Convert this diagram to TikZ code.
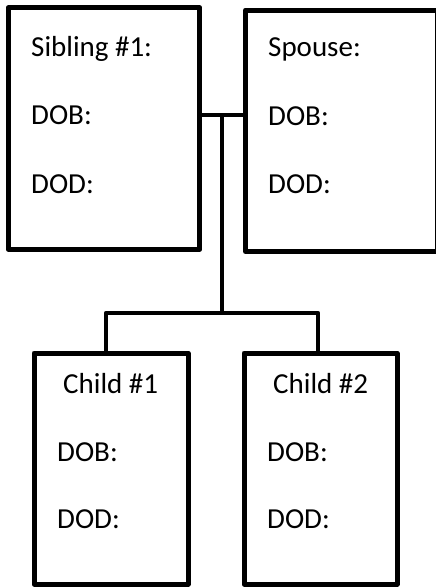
\documentclass[tikz,border=0pt]{standalone}
\usepackage{fontspec}
\setmainfont{Carlito}
\begin{document}
\begin{tikzpicture}[x=1pt,y=-1pt,
  personbox/.style={draw=black,line width=5pt,line join=round,inner sep=0pt,fill=none},
  lbl/.style={anchor=base west,inner sep=0pt,font=\fontsize{29}{33}\selectfont},
  conn/.style={draw=black,line width=4.5pt,line join=round}]
\useasboundingbox (0,0) rectangle (436,587);
\fill[white] (0,0) rectangle (436,587);
% boxes
\node[personbox,minimum width=191.5pt,minimum height=241.5pt] (sib) at (104,128.5) {};
\node[personbox,minimum width=191.5pt,minimum height=241.5pt] (sp) at (341.25,130.75) {};
\node[personbox,minimum width=154pt,minimum height=231pt] (c1) at (111,468.5) {};
\node[personbox,minimum width=153pt,minimum height=231pt] (c2) at (320.5,468.5) {};
% texts
\node[lbl] (t1) at (31,56) {Sibling \#1:};
\node[lbl] (t2) at (31,124) {DOB:};
\node[lbl] (t3) at (31,193) {DOD:};
\node[lbl] (s1) at (268,56) {Spouse:};
\node[lbl] (s2) at (268,125) {DOB:};
\node[lbl] (s3) at (268,193) {DOD:};
\node[lbl] (a1) at (63,393) {Child \#1};
\node[lbl] (a2) at (57,461) {DOB:};
\node[lbl] (a3) at (57,528) {DOD:};
\node[lbl] (b1) at (273,393) {Child \#2};
\node[lbl] (b2) at (267,461) {DOB:};
\node[lbl] (b3) at (267,528) {DOD:};
% connectors
\coordinate (m) at (222,115);
\coordinate (j) at (222,313);
\coordinate (jl) at (106,313);
\coordinate (jr) at (318,313);
\draw[conn] (sib.east |- m) -- (sp.west |- m);
\draw[conn] (m) -- (j);
\draw[conn] (c1.north -| jl) -- (jl) -- (jr) -- (c2.north -| jr);
\end{tikzpicture}
\end{document}
